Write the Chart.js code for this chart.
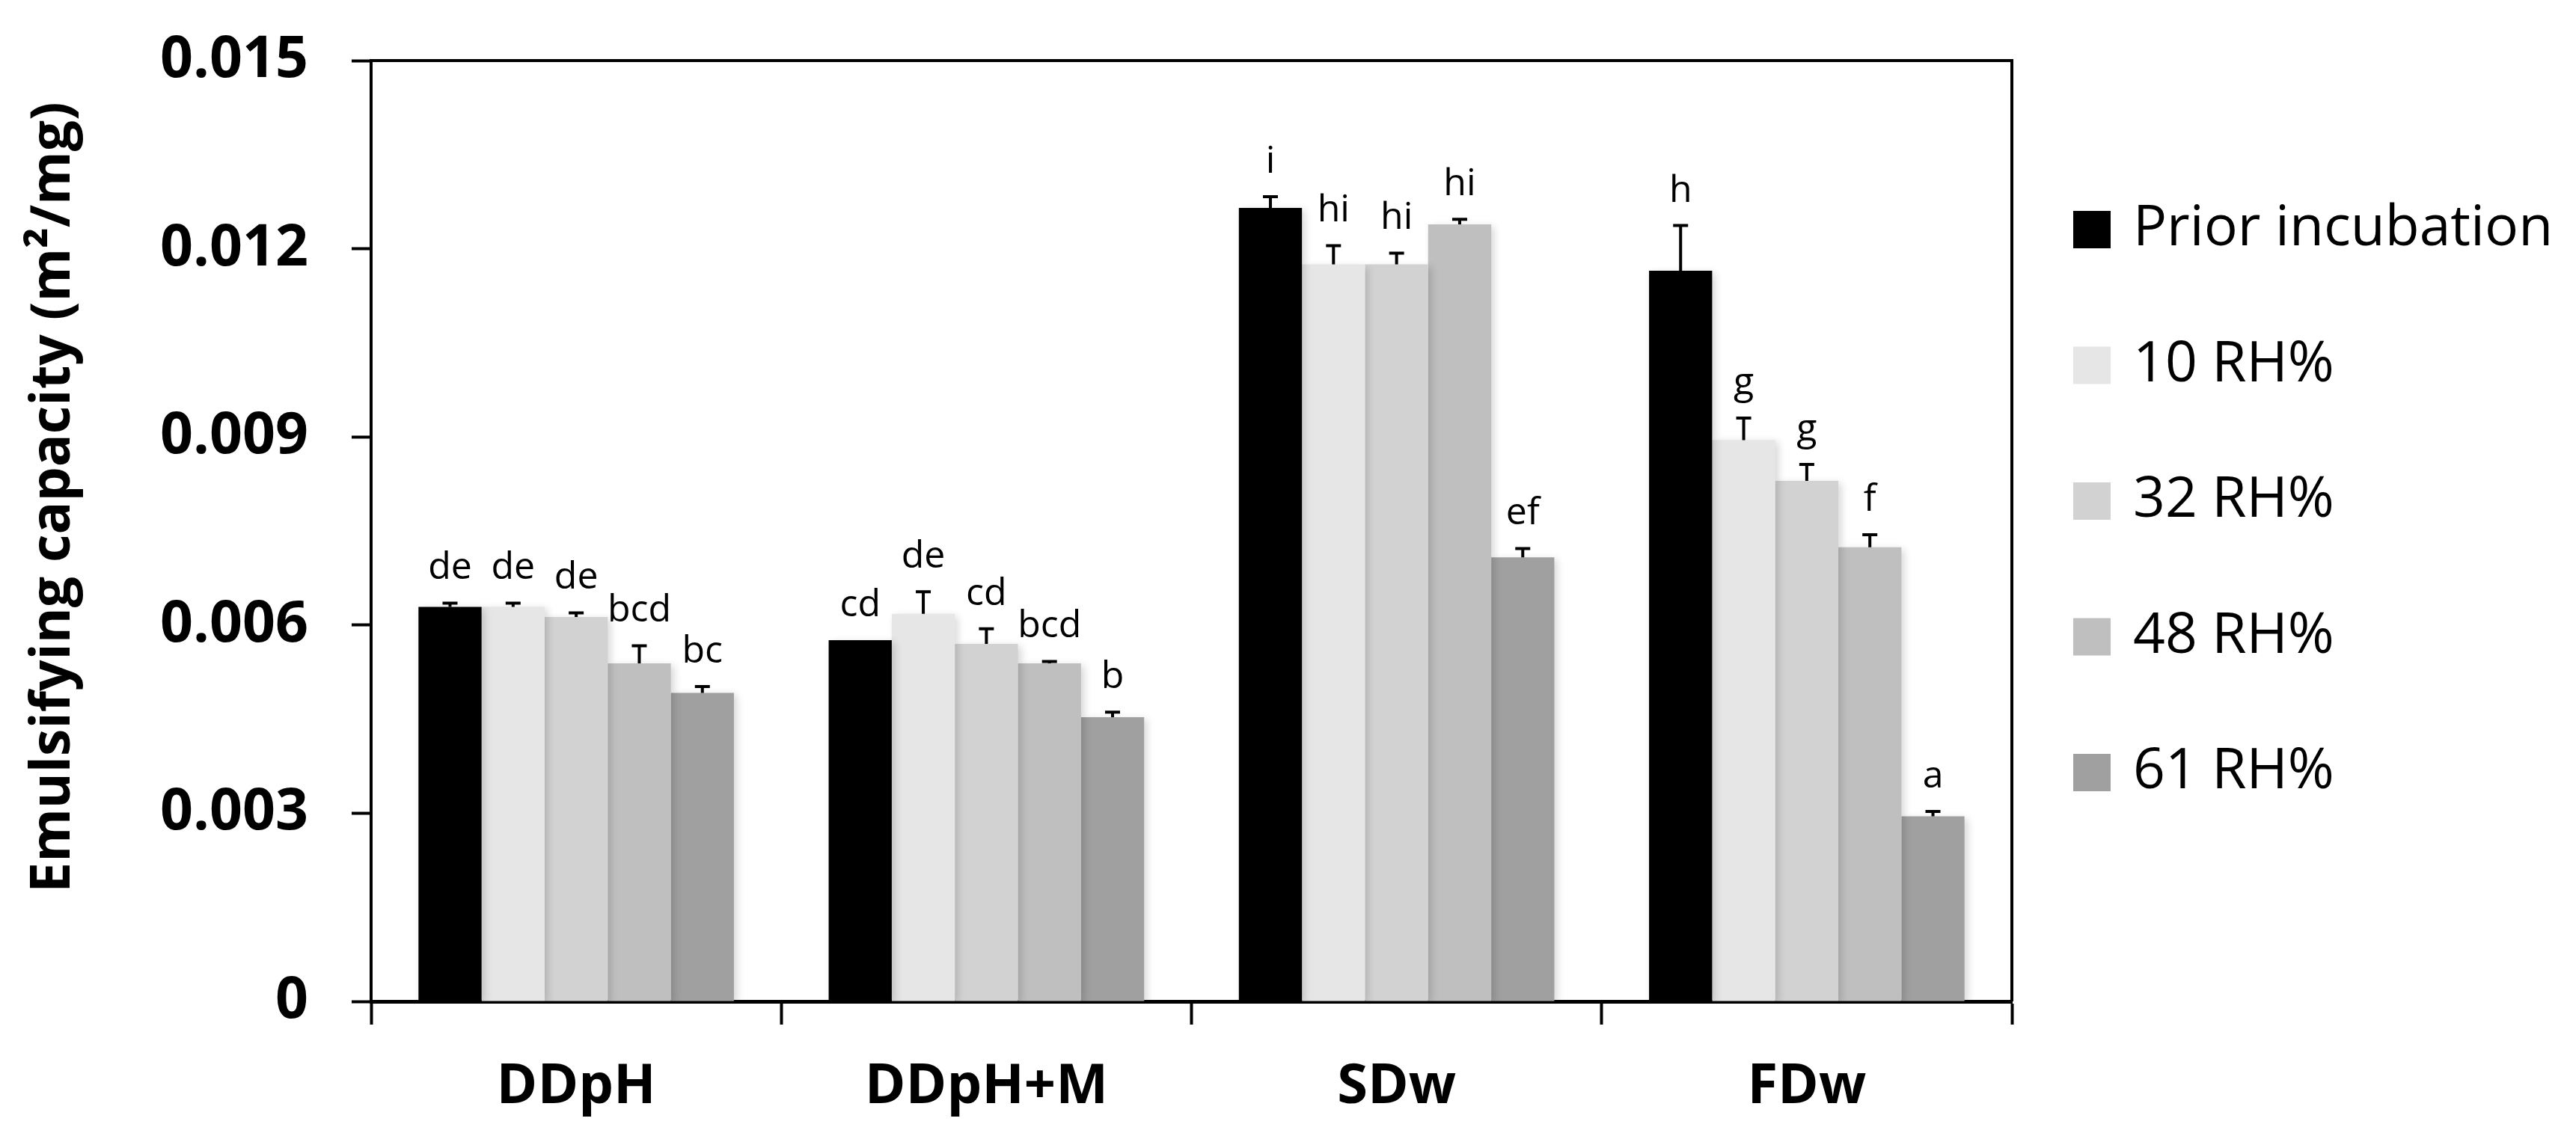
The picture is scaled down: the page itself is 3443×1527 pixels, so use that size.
<!DOCTYPE html>
<html><head><meta charset="utf-8">
<script src="https://cdn.jsdelivr.net/npm/chart.js@4"></script>
<style>html,body{margin:0;padding:0;background:#fff;} canvas{display:block;}</style>
</head><body>
<canvas id="c" width="3443" height="1527" style="width:3443px;height:1527px"></canvas>
<script>
// ---- data ----
const categories = ['DDpH', 'DDpH+M', 'SDw', 'FDw'];
const seriesNames = ['Prior incubation', '10 RH%', '32 RH%', '48 RH%', '61 RH%'];

const priorIncubation = [0.00629, 0.00576, 0.01265, 0.01165];
const rh10 = [0.00629, 0.00618, 0.01175, 0.00895];
const rh32 = [0.00613, 0.00570, 0.01175, 0.00830];
const rh48 = [0.00539, 0.00539, 0.01239, 0.00724];
const rh61 = [0.00492, 0.00453, 0.00708, 0.00295];

const errPrior = [0.00006, 0, 0.00018, 0.00072];
const err10 = [0.00006, 0.00035, 0.00030, 0.00035];
const err32 = [0.000065, 0.00024, 0.00018, 0.00026];
const err48 = [0.00028, 0.00003, 0.00008, 0.00020];
const err61 = [0.00010, 0.00008, 0.00014, 0.00008];

const lettersPrior = ['de', 'cd', 'i', 'h'];
const letters10 = ['de', 'de', 'hi', 'g'];
const letters32 = ['de', 'cd', 'hi', 'g'];
const letters48 = ['bcd', 'bcd', 'hi', 'f'];
const letters61 = ['bc', 'b', 'ef', 'a'];

const yTickValues = [0, 0.003, 0.006, 0.009, 0.012, 0.015];
const yTickLabels = ['0', '0.003', '0.006', '0.009', '0.012', '0.015'];
const yAxisTitle = 'Emulsifying capacity (m\u00B2/mg)';

// ---- styles ----
const colors = ['#000000', '#e6e6e6', '#d2d2d2', '#bfbfbf', '#a0a0a0'];
const FONT = '"Open Sans", "Noto Sans", sans-serif';

const values = [priorIncubation, rh10, rh32, rh48, rh61];
const errors = [errPrior, err10, err32, err48, err61];
const letters = [lettersPrior, letters10, letters32, letters48, letters61];

const datasets = seriesNames.map((name, i) => ({
  label: name,
  data: values[i],
  errors: errors[i],
  letters: letters[i],
  backgroundColor: colors[i],
  borderWidth: 0,
  categoryPercentage: 0.769,
  barPercentage: 1.0
}));

const barExtras = {
  id: 'barExtras',
  beforeDatasetsDraw(chart) {
    const ctx = chart.ctx;
    ctx.save();
    ctx.shadowColor = 'rgba(0,0,0,0.16)';
    ctx.shadowBlur = 10;
    ctx.shadowOffsetX = 4;
    ctx.shadowOffsetY = 3;
  },
  afterDatasetsDraw(chart) {
    const ctx = chart.ctx;
    ctx.restore();
    const ys = chart.scales.y;
    ctx.save();
    chart.data.datasets.forEach((ds, di) => {
      const meta = chart.getDatasetMeta(di);
      meta.data.forEach((bar, i) => {
        const v = ds.data[i], e = ds.errors[i];
        let top = bar.y;
        if (e > 0) {
          const ye = ys.getPixelForValue(v + e);
          ctx.beginPath();
          ctx.lineWidth = 4;
          ctx.strokeStyle = '#000';
          ctx.moveTo(bar.x, bar.y);
          ctx.lineTo(bar.x, ye);
          ctx.moveTo(bar.x - 10, ye);
          ctx.lineTo(bar.x + 10, ye);
          ctx.stroke();
          top = ye;
        }
        ctx.fillStyle = '#000';
        ctx.font = '50px ' + FONT;
        ctx.textAlign = 'center';
        ctx.textBaseline = 'alphabetic';
        ctx.fillText(ds.letters[i], bar.x, top - 32);
      });
    });
    ctx.restore();
  },
  afterDraw(chart) {
    const ctx = chart.ctx;
    const a = chart.chartArea;
    ctx.save();
    // frame
    ctx.strokeStyle = '#000';
    ctx.lineWidth = 4;
    ctx.beginPath();
    ctx.moveTo(a.left, a.top);
    ctx.lineTo(a.right, a.top);
    ctx.lineTo(a.right, a.bottom);
    ctx.stroke();
    // y-axis title
    ctx.fillStyle = '#000';
    ctx.font = 'bold 73px ' + FONT;
    ctx.textAlign = 'center';
    ctx.textBaseline = 'middle';
    ctx.translate(72, 665);
    ctx.rotate(-Math.PI / 2);
    ctx.fillText(yAxisTitle, 0, 0);
    ctx.restore();
    // legend
    ctx.save();
    ctx.font = '75px ' + FONT;
    ctx.textAlign = 'left';
    ctx.textBaseline = 'middle';
    chart.data.datasets.forEach((ds, i) => {
      const cy = 307 + i * 181.5;
      ctx.fillStyle = ds.backgroundColor;
      ctx.fillRect(2771, cy - 25, 50, 50);
      ctx.fillStyle = '#000';
      ctx.fillText(ds.label, 2851, cy);
    });
    ctx.restore();
  }
};

new Chart(document.getElementById('c'), {
  type: 'bar',
  data: { labels: categories, datasets },
  plugins: [barExtras],
  options: {
    responsive: false,
    animation: false,
    devicePixelRatio: 1,
    layout: { padding: { top: 81, right: 754, bottom: 0, left: 0 } },
    plugins: { legend: { display: false }, tooltip: { enabled: false } },
    scales: {
      x: {
        offset: true,
        grid: { display: true, offset: true, drawOnChartArea: false, drawTicks: true, tickLength: 31, tickWidth: 4, tickColor: '#000' },
        border: { display: true, color: '#000', width: 5 },
        ticks: { color: '#000', padding: 40, font: { family: FONT, size: 74, weight: 'bold' }, maxRotation: 0 },
        afterFit(scale) { scale.height = 188; }
      },
      y: {
        min: 0, max: 0.015,
        grid: { display: true, drawOnChartArea: false, drawTicks: true, tickLength: 26, tickWidth: 4, tickColor: '#000' },
        border: { display: true, color: '#000', width: 4 },
        afterBuildTicks(scale) { scale.ticks = yTickValues.map(v => ({ value: v })); },
        ticks: {
          color: '#000', padding: 58,
          font: { family: FONT, size: 77, weight: 'bold', lineHeight: 0.5 },
          callback: (v, i) => yTickLabels[i]
        },
        afterFit(scale) { scale.width = 496; }
      }
    }
  }
});
</script>
</body></html>
